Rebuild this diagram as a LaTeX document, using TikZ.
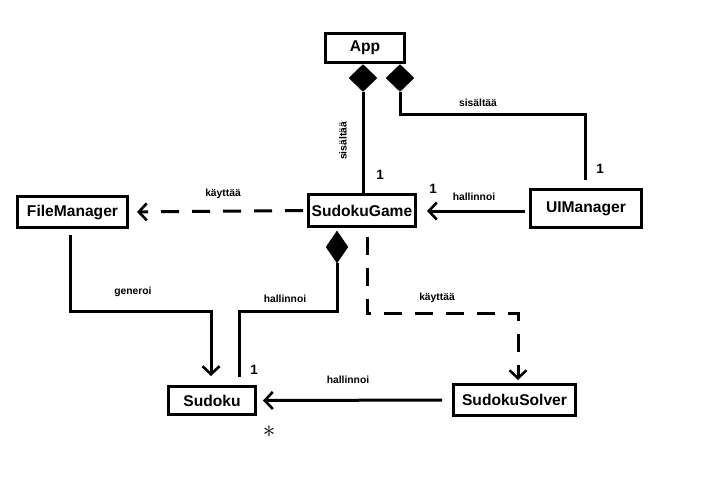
\documentclass[tikz,border=0pt]{standalone}
\usepackage{fontspec}
\setmainfont{Liberation Sans}
\usetikzlibrary{arrows.meta,shapes.geometric}
\tikzset{
  box/.style={draw, line width=3pt, inner sep=0pt, font=\fontsize{15.6}{18}\selectfont\bfseries},
  conn/.style={line width=3pt},
  arr/.style={conn, -{Straight Barb[length=8pt,width=17pt,line width=2.6pt]}},
  dsh/.style={dash pattern=on 18pt off 13pt},
  dia/.style={diamond, fill=black, draw=black, inner sep=0pt, aspect=1},
  lbl/.style={font=\fontsize{10.3}{12}\selectfont\bfseries},
  num/.style={font=\fontsize{13.5}{15}\selectfont\bfseries},
}
\begin{document}
\begin{tikzpicture}[x=1pt,y=-1pt]
\useasboundingbox (0,0) rectangle (711,483);
% boxes
\node[box, minimum width=79pt, minimum height=29pt] (App) at (365,48) {App};
\node[box, minimum width=110pt, minimum height=31pt] (FM) at (72.5,212) {FileManager};
\node[box, minimum width=107pt, minimum height=32pt] (SG) at (362,210.5) {SudokuGame};
\node[box, minimum width=111pt, minimum height=38pt] (UI) at (586,208.5) {UIManager};
\node[box, minimum width=87pt, minimum height=28pt] (Su) at (212,400.5) {Sudoku};
\node[box, minimum width=122pt, minimum height=31pt] (So) at (514.5,400) {SudokuSolver};
% diamonds
\node[dia, minimum width=28pt, minimum height=27pt] (d1) at (363,78) {};
\node[dia, minimum width=28pt, minimum height=27pt] (d2) at (400,78) {};
\node[dia, minimum width=22pt, minimum height=32pt] (d3) at (337,247) {};
% bend coordinates
\coordinate (c2) at (585,114);
\coordinate (c3) at (211,311);
\coordinate (c4) at (239,311);
\coordinate (c5) at (367,313);
\coordinate (c6) at (518,313);
% connectors
\draw[conn] (d1.south) -- (d1.south |- SG.north);
\draw[conn, shorten >=8pt] (d2.south) |- (c2) -- (c2 |- UI.north);
\draw[arr, shorten <=4pt, shorten >=10pt] (UI.west |- 0,211) -- (SG.east |- 0,211);
\draw[arr, dsh, shorten <=4pt, shorten >=8pt] (SG.west) -- (FM.east);
\draw[arr, shorten <=6pt, shorten >=9pt] (FM.south -| 70,0) |- (c3) -- (c3 |- Su.north);
\draw[conn, shorten >=8pt] (d3.south) |- (c4) -- (c4 |- Su.north);
\draw[arr, dsh, shorten <=9pt, shorten >=3pt] (c5 |- SG.south) -- (c5) -- (c6) -- (c6 |- So.north);
\draw[arr, shorten <=10pt, shorten >=6pt] (So.west) -- (Su.east);
% labels
\node[lbl, rotate=90] (l1) at (343,141) {sisältää};
\node[lbl] (l2) at (478,103) {sisältää};
\node[lbl] (l3) at (474,197) {hallinnoi};
\node[lbl] (l4) at (223,194) {käyttää};
\node[lbl] (l5) at (133,292) {generoi};
\node[lbl] (l6) at (285,299) {hallinnoi};
\node[lbl] (l7) at (437,298) {käyttää};
\node[lbl] (l8) at (348,380) {hallinnoi};
\node[num] (n1) at (380,175) {1};
\node[num] (n2) at (600,169) {1};
\node[num] (n3) at (433,189) {1};
\node[num] (n4) at (254,370) {1};
\node (st) at (269,432) {\fontsize{24}{24}\selectfont$\ast$};
\end{tikzpicture}
\end{document}
